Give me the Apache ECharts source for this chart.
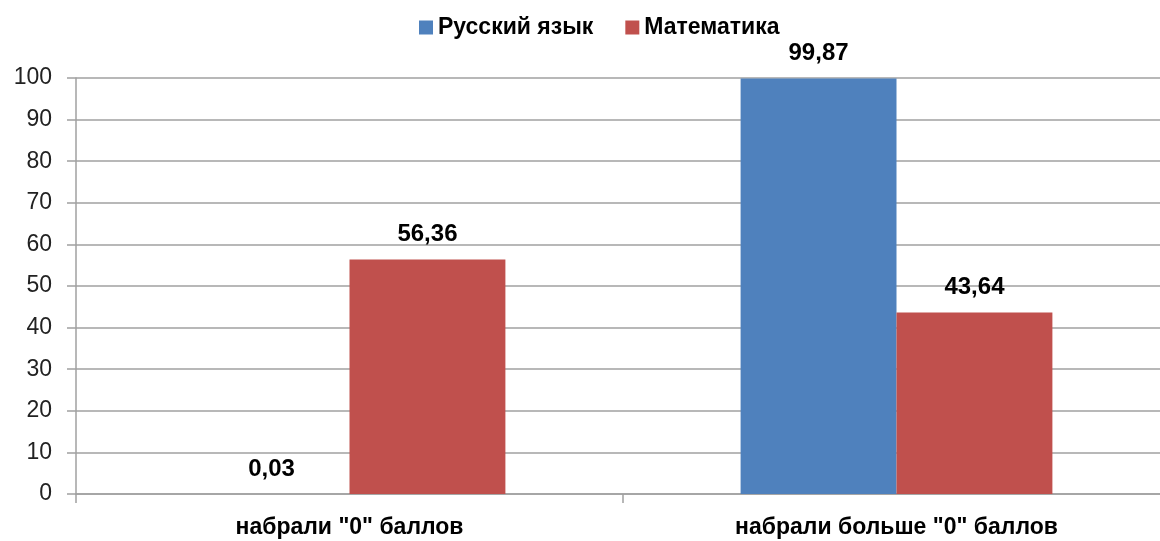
<!DOCTYPE html>
<html>
<head>
<meta charset="utf-8">
<script src="https://cdn.jsdelivr.net/npm/echarts@6/dist/echarts.min.js"></script>
<style>html,body{margin:0;padding:0;background:#fff;overflow:hidden}#c{width:1160px;height:541px}</style>
</head>
<body>
<div id="c"></div>
<script>
const categories = ['набрали "0" баллов', 'набрали больше "0" баллов'];
const seriesNames = ['Русский язык', 'Математика'];
const russian = [0.03, 99.87];
const math = [56.36, 43.64];
const yTicks = [0, 10, 20, 30, 40, 50, 60, 70, 80, 90, 100];

const font = '"Liberation Sans", Arial, sans-serif';
const chart = echarts.init(document.getElementById('c'));
const lbl = {
  show: true, position: 'top', distance: 13,
  fontFamily: font, fontSize: 24, fontWeight: 'bold', color: '#000',
  formatter: p => String(p.value).replace('.', ',')
};
chart.setOption({
  animation: false,
  legend: {
    top: 11, left: 414,
    itemWidth: 14, itemHeight: 14, itemGap: 32,
    icon: 'rect',
    textStyle: { fontFamily: font, fontSize: 23, fontWeight: 'bold', color: '#000' },
    data: seriesNames
  },
  grid: { left: 76, width: 1094, top: 78, height: 416, containLabel: false, outerBoundsMode: 'none' },
  xAxis: {
    type: 'category', data: categories,
    axisLine: { lineStyle: { color: '#a0a0a0', width: 1.5 } },
    axisTick: { show: true, length: 9, lineStyle: { color: '#a0a0a0', width: 1.5 } },
    axisLabel: { margin: 22, fontFamily: font, fontSize: 23, fontWeight: 'bold', color: '#000' }
  },
  yAxis: {
    type: 'value', min: yTicks[0], max: yTicks[yTicks.length - 1], interval: 10,
    axisLine: { show: true, lineStyle: { color: '#a0a0a0', width: 1.5 } },
    axisTick: { show: true, length: 9, lineStyle: { color: '#a0a0a0', width: 1.5 } },
    splitLine: { lineStyle: { color: '#a0a0a0', width: 1.5 } },
    axisLabel: { margin: 24, fontFamily: font, fontSize: 23, color: '#222' }
  },
  series: [
    { name: seriesNames[0], type: 'bar', data: russian, barGap: '0%', barCategoryGap: '43%',
      itemStyle: { color: '#4F81BD' }, label: lbl },
    { name: seriesNames[1], type: 'bar', data: math, barGap: '0%', barCategoryGap: '43%',
      itemStyle: { color: '#C0504D' }, label: lbl }
  ]
});
</script>
</body>
</html>
